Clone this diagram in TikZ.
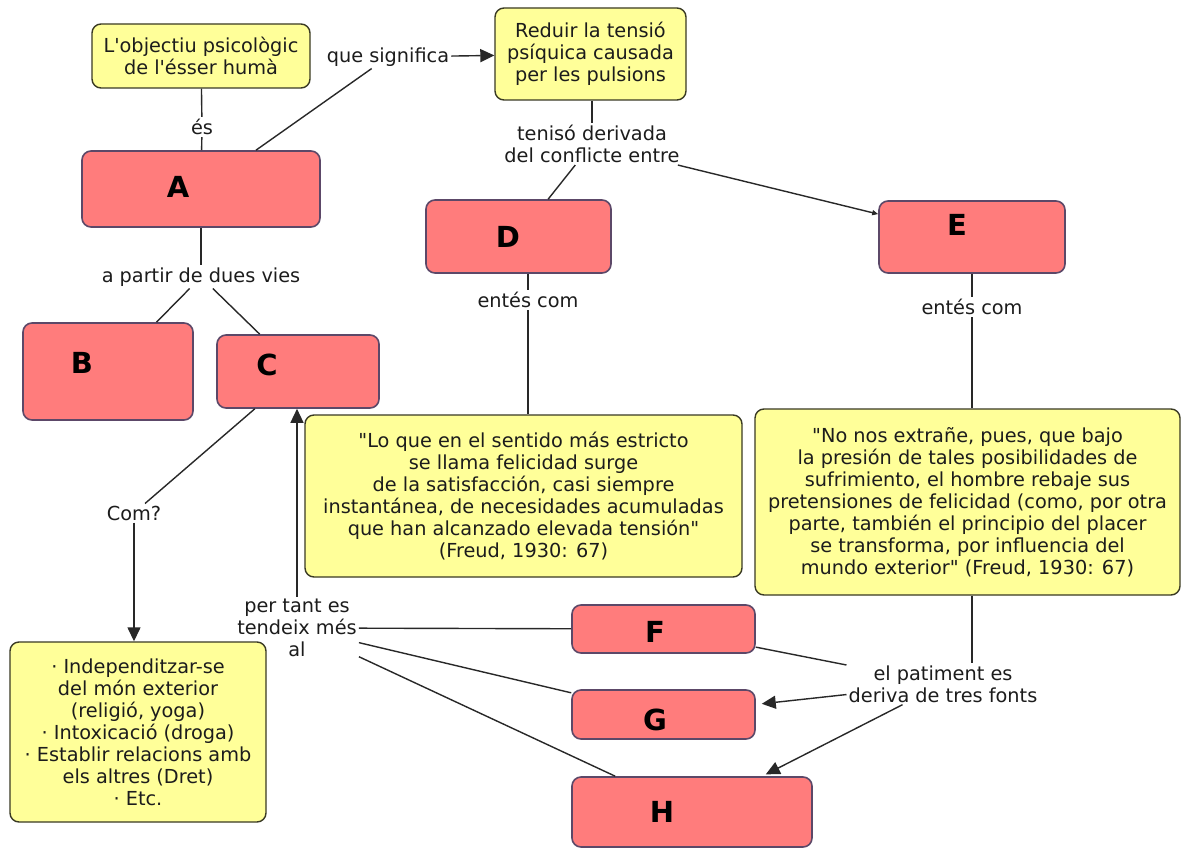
\documentclass[tikz,border=0pt]{standalone}
\usepackage{fontspec}
\setmainfont{DejaVu Sans}[Ligatures=TeXOff]
\usetikzlibrary{arrows.meta}
\definecolor{redfill}{RGB}{255,124,124}
\definecolor{redline}{RGB}{92,72,104}
\definecolor{yelfill}{RGB}{255,255,153}
\definecolor{yelline}{RGB}{58,58,36}
\definecolor{txt}{RGB}{28,28,28}
\definecolor{conn}{RGB}{40,40,40}
\tikzset{
  redbox/.style={draw=redline, fill=redfill, line width=1.6pt, rounded corners=9pt, inner sep=0pt},
  yelbox/.style={draw=yelline, fill=yelfill, line width=1.4pt, rounded corners=9pt, inner sep=0pt, align=center, text=txt, font=\fontsize{19.3}{22}\selectfont},
  letter/.style={text=black, font=\fontsize{29}{30}\selectfont\bfseries},
  lab/.style={inner sep=2pt, align=center, text=txt, font=\fontsize{19.3}{22}\selectfont},
  conn/.style={draw=conn, line width=1.4pt},
  arr/.style={conn, -{Triangle[length=14pt,width=13pt]}},
}
\begin{document}
\begin{tikzpicture}[x=1pt,y=-1pt]
\useasboundingbox[fill=white] (0,0) rectangle (1182,848);
% boxes
\node[yelbox, minimum width=218pt, minimum height=64pt] (obj) at (201,56) {L'objectiu psicològic\\de l'ésser humà};
\node[yelbox, minimum width=191pt, minimum height=92pt] (red) at (590.5,54) {Reduir la tensió\\psíquica causada\\per les pulsions};
\node[redbox, minimum width=238pt, minimum height=76pt] (A) at (201,189) {};
\node[redbox, minimum width=185pt, minimum height=73pt] (D) at (518.5,236.5) {};
\node[redbox, minimum width=186pt, minimum height=72pt] (E) at (972,237) {};
\node[redbox, minimum width=170pt, minimum height=97pt] (B) at (108,371.5) {};
\node[redbox, minimum width=162pt, minimum height=73pt] (C) at (298,371.5) {};
\node[yelbox, minimum width=437pt, minimum height=162pt] (q1) at (523.5,496) {"Lo que en el sentido más estricto\\se llama felicidad surge\\de la satisfacción, casi siempre\\instantánea, de necesidades acumuladas\\que han alcanzado elevada tensión"\\(Freud, 1930: 67)};
\node[yelbox, minimum width=425pt, minimum height=186pt] (q2) at (967.5,502) {"No nos extrañe, pues, que bajo\\la presión de tales posibilidades de\\sufrimiento, el hombre rebaje sus\\pretensiones de felicidad (como, por otra\\parte, también el principio del placer\\se transforma, por influencia del\\mundo exterior" (Freud, 1930: 67)};
\node[yelbox, minimum width=256pt, minimum height=180pt] (ind) at (138,732) {· Independitzar-se\\del món exterior\\(religió, yoga)\\· Intoxicació (droga)\\· Establir relacions amb\\els altres (Dret)\\· Etc.};
\node[redbox, minimum width=183pt, minimum height=48pt] (F) at (663.5,629) {};
\node[redbox, minimum width=183pt, minimum height=49pt] (G) at (663.5,714.5) {};
\node[redbox, minimum width=240pt, minimum height=70pt] (H) at (692,812) {};
% letters
\node[letter] at (178,187) {A};
\node[letter] at (82,363) {B};
\node[letter] at (267,365) {C};
\node[letter] at (508,237) {D};
\node[letter] at (957,225) {E};
\node[letter] at (655,632) {F};
\node[letter] at (655,720) {G};
\node[letter] at (662,812) {H};
% labels
\node[lab] (es) at (202,127) {és};
\node[lab] (qs) at (388,57) {que significa};
\node[lab] (ten) at (592,144) {tenisó derivada\\del conflicte entre};
\node[lab] (ap) at (201,277) {a partir de dues vies};
\node[lab] (ed) at (528,300) {entés com};
\node[lab] (ee) at (972,307) {entés com};
\node[lab] (com) at (134,513) {Com?};
\node[lab] (pt) at (297,628) {per tant es\\tendeix més\\al};
\node[lab] (pat) at (943,684) {el patiment es\\deriva de tres fonts};
% connectors
\draw[conn] (obj) -- (es) -- (A);
\draw[conn] (A) -- (qs);
\draw[arr] (qs) -- (red);
\draw[conn] (red.south -| ten) -- (ten);
\draw[conn] (ten) -- (D);
\draw[conn, -{Triangle[length=6pt,width=5pt]}] (ten) -- (E);
\draw[conn] (D.south -| ed) -- (ed) -- (ed |- q1.north);
\draw[conn] (E.south -| ee) -- (ee) -- (ee |- q2.north);
\draw[conn] (q2.south -| ee) -- (ee |- pat.north);
\draw[conn] (pat) -- (F);
\draw[arr, shorten >=6pt] (pat) -- (G);
\draw[arr, shorten >=4pt] (pat) -- (H);
\draw[conn] (A) -- (ap);
\draw[conn] (ap) -- (B);
\draw[conn] (ap) -- (C);
\draw[conn] (C) -- (com);
\draw[arr] (com) -- (com |- ind.north);
\draw[arr] (pt) -- (pt |- C.south);
\draw[conn] (pt) -- (F);
\draw[conn] (pt) -- (G);
\draw[conn] (pt) -- (H);
\end{tikzpicture}
\end{document}
